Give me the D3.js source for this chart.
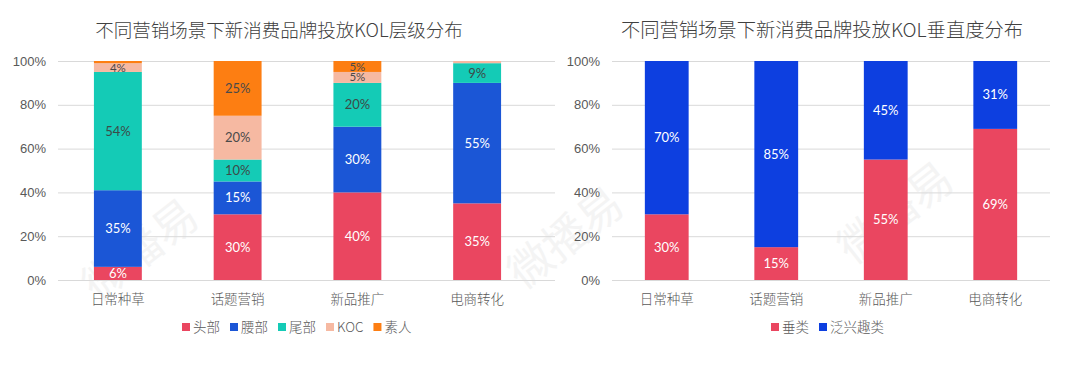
<!DOCTYPE html>
<html>
<head>
<meta charset="utf-8">
<script src="https://cdn.jsdelivr.net/npm/d3@7"></script>
<style>
  body { margin: 0; background: #fff; }
  svg { display: block; font-family: "Lato", "Noto Sans CJK SC", sans-serif; }
</style>
</head>
<body>
<svg id="chart" width="1080" height="368"></svg>
<script>
// categories shared by both charts
var scenes = ["日常种草", "话题营销", "新品推广", "电商转化"];

// left chart: KOL tiers (percent)
var tierNames = ["头部", "腰部", "尾部", "KOC", "素人"];
var tierHead = [6, 30, 40, 35];
var tierWaist = [35, 15, 30, 55];
var tierTail = [54, 10, 20, 9];
var tierKoc = [4, 20, 5, 1];
var tierAmateur = [1, 25, 5, 0];

// right chart: verticality (percent)
var vertNames = ["垂类", "泛兴趣类"];
var vertVertical = [30, 15, 55, 69];
var vertGeneral = [70, 85, 45, 31];

var yTicks = [0, 20, 40, 60, 80, 100];

var svg = d3.select("#chart");

// faint watermarks
var marks = [[150, 262, -38], [575, 250, -38], [905, 225, -38]];
var wm = svg.append("g").attr("class", "watermark");
marks.forEach(function(m) {
    wm.append("text")
        .attr("transform", "translate(" + m[0] + "," + m[1] + ") rotate(" + m[2] + ")")
        .attr("text-anchor", "middle")
        .attr("font-size", 44)
        .attr("fill", "#f4f4f4")
        .text("微播易");
});

function drawChart(cfg) {
    var x = d3.scaleBand()
        .domain(scenes)
        .range([cfg.left, cfg.right])
        .paddingInner(0.6)
        .paddingOuter(0.3);
    var y = d3.scaleLinear().domain([0, 100]).range([280, 61]);

    var g = svg.append("g");

    // title
    g.append("text")
        .attr("x", cfg.titleX)
        .attr("y", 37)
        .attr("text-anchor", "middle")
        .attr("font-size", cfg.titleSize)
        .attr("fill", "#404040")
        .attr("font-family", "Noto Sans CJK SC")
        .attr("font-weight", 300)
        .text(cfg.title);

    // grid + y labels
    var yAxis = d3.axisLeft(y)
        .tickValues(yTicks)
        .tickSize(-(cfg.gridRight - cfg.left))
        .tickPadding(12)
        .tickFormat(function(d) { return d + "%"; });
    var ya = g.append("g")
        .attr("transform", "translate(" + cfg.left + ",0)")
        .call(yAxis);
    ya.select(".domain").remove();
    ya.selectAll("line").attr("stroke", "#d9d9d9").attr("stroke-width", 1);
    ya.selectAll("text")
        .attr("font-size", 13)
        .attr("fill", "#595959")
        .attr("x", -(cfg.left - cfg.tickEnd));

    // stacked bars
    var rows = scenes.map(function(s, i) {
        var r = { scene: s };
        cfg.series.forEach(function(se) { r[se.name] = se.values[i]; });
        return r;
    });
    var stack = d3.stack().keys(cfg.series.map(function(s) { return s.name; }));
    var layers = stack(rows);

    layers.forEach(function(layer, li) {
        var se = cfg.series[li];
        var lg = g.append("g");
        lg.selectAll("rect")
            .data(layer)
            .enter()
            .append("rect")
            .attr("x", function(d) { return x(d.data.scene); })
            .attr("width", x.bandwidth())
            .attr("y", function(d) { return y(d[1]); })
            .attr("height", function(d) { return y(d[0]) - y(d[1]); })
            .attr("fill", se.color);
        lg.selectAll("text")
            .data(layer.filter(function(d) { return d[1] - d[0] >= 4; }))
            .enter()
            .append("text")
            .attr("x", function(d) { return x(d.data.scene) + x.bandwidth() / 2; })
            .attr("y", function(d) { return (y(d[0]) + y(d[1])) / 2; })
            .attr("dy", "0.35em")
            .attr("text-anchor", "middle")
            .attr("font-size", function(d) { return d[1] - d[0] < 6 ? 11.5 : 13; })
            .attr("fill", se.label)
            .text(function(d) { return Math.round(d[1] - d[0]) + "%"; });
    });

    // category labels
    var xa = g.append("g")
        .attr("transform", "translate(0,280)")
        .call(d3.axisBottom(x).tickSize(0).tickPadding(14));
    xa.select(".domain").remove();
    xa.selectAll("text")
        .attr("font-size", 13.5)
        .attr("fill", "#595959")
        .attr("font-family", "Noto Sans CJK SC")
        .attr("font-weight", 300);

    // legend
    var leg = g.append("g").attr("transform", "translate(" + cfg.legendX + ",327)");
    var lx = 0;
    cfg.series.forEach(function(se) {
        leg.append("rect")
            .attr("x", lx).attr("y", -4)
            .attr("width", 8).attr("height", 8)
            .attr("fill", se.color);
        var t = leg.append("text")
            .attr("x", lx + 11)
            .attr("dy", "0.35em")
            .attr("font-size", 13.5)
            .attr("fill", "#595959")
            .attr("font-family", "Noto Sans CJK SC")
            .attr("font-weight", 300)
            .text(se.name);
        lx += 11 + t.node().getComputedTextLength() + 10;
    });
}

drawChart({
    title: "不同营销场景下新消费品牌投放KOL层级分布",
    titleX: 279, titleSize: 18.5,
    left: 58, right: 537, gridRight: 555, tickEnd: 46,
    legendX: 182,
    series: [
        { name: tierNames[0], values: tierHead, color: "#EA4660", label: "#ffffff" },
        { name: tierNames[1], values: tierWaist, color: "#1B56D6", label: "#ffffff" },
        { name: tierNames[2], values: tierTail, color: "#14CBB6", label: "#3d4a48" },
        { name: tierNames[3], values: tierKoc, color: "#F6B9A2", label: "#4a4a4a" },
        { name: tierNames[4], values: tierAmateur, color: "#FD7E12", label: "#4a4a4a" }
    ]
});

drawChart({
    title: "不同营销场景下新消费品牌投放KOL垂直度分布",
    titleX: 822, titleSize: 19.3,
    left: 612, right: 1050, gridRight: 1050, tickEnd: 600,
    legendX: 771,
    series: [
        { name: vertNames[0], values: vertVertical, color: "#EA4660", label: "#ffffff" },
        { name: vertNames[1], values: vertGeneral, color: "#0D3FE0", label: "#ffffff" }
    ]
});
</script>
</body>
</html>
